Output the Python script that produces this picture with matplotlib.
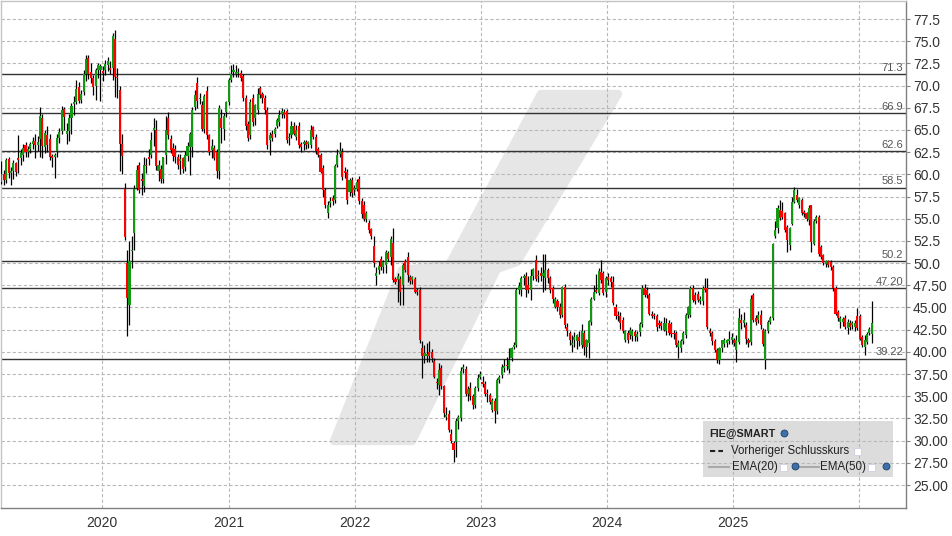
import datetime as dt
import numpy as np
import matplotlib
matplotlib.use("Agg")
import matplotlib.pyplot as plt
import matplotlib.dates as mdates
from matplotlib.patches import Polygon, Rectangle
from matplotlib.lines import Line2D
from matplotlib.transforms import blended_transform_factory

plt.rcParams['font.family'] = ['Liberation Sans', 'DejaVu Sans']

# weekly candles FIE@SMART, first week ending 2019-03-15
first_week = dt.date(2019, 3, 15)

opens = [
    # 2019-03 .. 2020-04
    59.1, 60.0, 59.4, 61.7, 60.1, 60.4, 61.3, 61.8, 61.8, 62.2, 63.3, 62.5, 62.9, 63.4, 63.8, 63.3,
    64.0, 66.4, 63.1, 64.4, 64.0, 62.1, 62.0, 62.6, 64.1, 64.9, 67.4, 64.6, 64.9, 66.3, 67.9, 68.1,
    69.8, 68.4, 69.3, 71.3, 73.1, 71.5, 70.9, 70.0, 71.8, 71.8, 71.6, 71.7, 72.3, 72.0, 72.0, 75.2,
    71.0, 69.5, 63.4, 58.3, 50.0, 45.3, 51.4, 53.4,
    # 2020-04 .. 2021-01
    58.5, 61.0, 59.5, 58.7, 61.1, 62.0, 62.2, 65.0, 65.0, 60.4, 60.6, 59.5, 62.2, 66.4, 64.0, 63.0,
    62.9, 62.0, 61.5, 61.8, 60.8, 62.1, 63.1, 63.1, 67.6, 70.3, 68.5, 67.8, 65.1, 69.4, 64.4, 62.7,
    63.0, 62.5, 60.4, 66.4, 65.1, 67.0, 68.1, 70.6, 71.5,
    # 2021-01 .. 2022-01
    71.3, 71.4, 71.4, 71.1, 68.6, 65.7, 64.4, 68.6, 66.3, 67.2, 69.7, 69.0, 68.6, 67.2, 63.9, 64.5,
    64.5, 65.5, 65.9, 66.8, 67.0, 67.1, 64.1, 64.4, 65.5, 64.2, 65.5, 63.4, 63.4, 63.6, 63.4, 63.3,
    65.3, 64.2, 62.8, 62.2, 60.7, 58.2, 55.6, 56.8, 57.3, 57.1, 61.1, 62.3, 62.5, 60.4, 60.3, 58.0,
    59.4, 58.2, 58.4, 59.5, 57.0,
    # 2022-01 .. 2023-06
    56.5, 55.0, 54.5, 53.8, 51.9, 48.6, 49.2, 50.5, 49.6, 49.8, 51.1, 50.7, 52.3, 48.2, 48.1, 48.2,
    47.5, 50.2, 50.7, 48.4, 48.1, 48.2, 46.9, 47.0, 40.4, 39.5, 39.5, 40.0, 40.0, 39.0, 36.6, 36.3,
    38.2, 36.1, 32.7, 33.0, 30.8, 29.7, 29.9, 32.2, 32.5, 38.1, 38.1, 35.3, 35.9, 35.0, 34.0, 35.9,
    37.2, 36.6, 36.4, 35.4, 35.1, 33.5, 34.5, 33.3, 36.8, 37.4, 38.2, 38.5, 38.1, 39.3, 40.6, 40.8,
    47.0, 47.0, 48.3, 48.5, 47.5, 47.0, 48.5, 50.3, 48.5,
    # 2023-06 .. 2024-11
    48.9, 48.5, 48.3, 49.2, 48.3, 47.2, 45.1, 45.7, 45.1, 44.2, 47.3, 42.8, 42.1, 40.8, 41.3, 41.2,
    41.7, 40.8, 42.1, 40.6, 41.0, 43.4, 46.0, 46.9, 46.6, 49.0, 48.9, 46.8, 48.4, 48.3, 47.9, 45.1,
    44.2, 44.0, 43.6, 41.3, 42.1, 41.9, 41.8, 42.2, 41.7, 42.2, 43.1, 47.2, 47.0, 46.4, 44.3, 44.1,
    44.0, 43.3, 43.2, 42.5, 42.3, 43.2, 43.1, 42.1, 42.1, 40.6, 40.4, 41.2, 41.9, 44.2, 44.2, 47.2,
    46.4, 46.5, 45.7, 45.7, 47.2, 47.2, 42.4, 42.1, 41.2, 40.2, 39.1,
    # 2024-11 .. 2026-02
    40.4, 40.9, 41.0, 41.2, 41.3, 41.3, 40.2, 41.1, 43.6, 43.2, 43.0, 41.3, 41.1, 46.4, 43.8, 43.6,
    44.1, 42.5, 39.1, 42.3, 43.4, 43.8, 53.0, 53.9, 56.0, 55.9, 55.6, 54.1, 52.0, 54.4, 56.9, 57.7,
    56.5, 57.1, 55.8, 55.6, 54.9, 56.5, 52.2, 54.7, 55.2, 51.8, 50.9, 49.9, 50.2, 50.1, 49.6, 47.2,
    44.5, 43.4, 43.4, 43.8, 42.7, 43.3, 43.0, 42.8, 44.0, 44.0, 41.7, 40.6, 41.1, 42.1, 42.0,
]

highs = [
    61.5, 60.5, 61.8, 61.9, 60.8, 61.6, 61.4, 64.4, 62.9, 63.4, 63.6, 63.2, 63.7, 64.2, 64.5, 64.3,
    67.6, 66.8, 65.0, 65.5, 64.5, 62.3, 62.4, 64.6, 65.2, 67.7, 67.6, 65.8, 66.8, 68.0, 68.8, 70.6,
    70.4, 69.5, 71.8, 73.5, 73.5, 72.6, 71.2, 72.0, 72.6, 72.4, 72.2, 72.9, 73.2, 72.8, 75.9, 76.3,
    72.0, 69.9, 64.5, 59.0, 51.5, 52.5, 53.0, 58.8,
    61.0, 61.4, 60.2, 62.0, 61.8, 62.8, 64.8, 66.3, 66.1, 61.6, 61.0, 62.0, 66.6, 67.0, 64.4, 63.5,
    63.3, 62.3, 62.3, 62.0, 62.6, 63.6, 64.8, 67.6, 69.5, 71.0, 69.2, 68.3, 69.0, 69.9, 64.6, 64.0,
    63.3, 62.9, 67.8, 67.4, 66.9, 68.3, 70.9, 72.3, 72.4,
    72.3, 72.0, 71.8, 71.3, 68.9, 66.0, 68.5, 69.0, 67.9, 69.7, 70.0, 69.3, 68.9, 67.6, 64.8, 65.0,
    65.3, 66.4, 67.3, 67.5, 67.4, 67.4, 64.7, 66.0, 65.9, 65.6, 65.9, 63.7, 63.9, 63.9, 63.8, 65.6,
    65.5, 64.5, 63.1, 62.4, 61.0, 58.5, 57.0, 57.5, 57.7, 61.2, 62.8, 63.6, 63.0, 60.8, 60.6, 59.6,
    59.7, 58.8, 59.5, 59.8, 57.3,
    57.0, 55.9, 54.9, 54.0, 53.0, 49.6, 50.2, 50.8, 50.4, 51.5, 51.4, 53.0, 54.0, 48.4, 48.9, 48.6,
    50.0, 50.5, 51.2, 48.7, 48.6, 48.4, 47.2, 47.3, 41.2, 40.8, 41.0, 41.2, 40.3, 39.3, 37.0, 38.7,
    38.5, 36.3, 33.8, 33.4, 31.3, 30.0, 32.5, 32.9, 38.3, 38.6, 38.4, 36.1, 36.6, 35.3, 36.2, 37.5,
    37.9, 37.3, 36.7, 35.8, 35.4, 34.8, 34.8, 37.0, 37.4, 38.6, 39.2, 39.4, 40.4, 40.6, 41.1, 47.2,
    47.9, 48.6, 48.8, 49.0, 48.5, 49.3, 49.5, 50.9, 49.2,
    49.6, 51.0, 51.0, 49.5, 48.5, 47.4, 46.2, 46.0, 45.5, 47.4, 47.6, 43.2, 42.4, 41.9, 42.2, 42.0,
    42.3, 43.1, 42.5, 41.5, 43.6, 46.2, 47.5, 48.8, 49.4, 50.3, 49.1, 48.5, 48.9, 48.6, 48.5, 45.4,
    44.6, 44.5, 43.9, 42.5, 42.5, 42.8, 42.6, 42.5, 42.3, 43.4, 47.5, 47.7, 47.3, 46.6, 44.6, 44.4,
    44.3, 43.6, 43.5, 43.9, 43.8, 43.6, 43.4, 42.5, 42.4, 41.3, 41.4, 42.3, 44.4, 45.2, 47.4, 47.5,
    46.7, 46.9, 46.3, 47.4, 48.3, 48.3, 42.7, 42.3, 41.5, 40.4, 40.6,
    41.3, 41.6, 41.5, 42.3, 42.1, 41.6, 41.9, 44.9, 44.3, 44.5, 43.4, 41.6, 46.4, 46.6, 44.2, 44.6,
    44.7, 42.7, 42.6, 43.6, 44.0, 52.3, 54.7, 56.5, 57.1, 56.9, 55.8, 54.3, 54.1, 57.5, 58.6, 58.4,
    57.5, 57.3, 56.0, 55.8, 56.5, 56.6, 55.0, 55.4, 55.4, 52.0, 51.0, 50.3, 50.4, 50.3, 49.8, 47.4,
    44.7, 44.0, 43.9, 44.1, 43.7, 43.6, 43.5, 43.6, 44.9, 44.3, 41.9, 41.9, 42.2, 42.8, 45.7,
]

lows = [
    58.9, 58.8, 59.0, 59.6, 58.8, 59.5, 59.8, 60.1, 61.0, 61.5, 61.9, 61.9, 62.4, 62.8, 61.8, 62.6,
    62.0, 61.8, 62.4, 62.5, 61.6, 60.8, 59.6, 61.9, 63.5, 64.5, 65.0, 63.4, 63.8, 64.5, 66.7, 67.9,
    68.0, 68.0, 68.9, 70.5, 70.7, 70.3, 68.9, 68.4, 70.8, 68.3, 70.5, 71.2, 71.6, 71.3, 70.6, 68.7,
    68.6, 60.4, 60.0, 52.6, 41.8, 43.0, 49.5, 51.5,
    58.2, 57.9, 57.7, 58.0, 60.2, 61.0, 61.8, 63.2, 60.5, 59.2, 59.0, 59.0, 61.2, 64.0, 62.4, 61.5,
    61.3, 60.6, 60.0, 60.2, 60.4, 61.5, 59.9, 62.0, 67.3, 67.5, 67.9, 64.9, 64.7, 64.0, 62.2, 61.8,
    61.6, 59.6, 59.5, 63.5, 63.9, 66.5, 67.8, 70.4, 71.0,
    71.0, 71.0, 70.5, 68.3, 65.0, 63.8, 64.0, 65.5, 65.6, 66.8, 68.6, 68.0, 66.8, 62.9, 62.2, 63.8,
    64.2, 65.2, 65.5, 66.4, 66.4, 63.5, 63.3, 64.1, 64.4, 63.9, 63.0, 62.5, 62.7, 62.9, 63.0, 63.0,
    64.0, 62.3, 61.9, 60.1, 57.5, 56.2, 55.1, 56.3, 56.6, 56.8, 60.8, 62.0, 59.4, 59.6, 56.7, 57.6,
    57.5, 57.7, 58.1, 56.7, 55.1,
    54.7, 54.6, 53.4, 52.7, 49.6, 47.5, 48.8, 49.2, 48.9, 48.9, 50.2, 49.8, 47.9, 47.6, 45.6, 45.3,
    45.3, 49.0, 47.9, 47.7, 47.6, 46.6, 46.4, 41.0, 37.0, 38.8, 38.9, 38.9, 38.9, 37.0, 35.8, 35.1,
    35.8, 32.7, 32.3, 31.0, 29.7, 27.6, 28.2, 31.3, 32.2, 37.6, 35.0, 34.5, 34.6, 33.6, 33.7, 35.6,
    36.9, 36.0, 35.0, 34.4, 34.1, 33.2, 32.0, 33.0, 36.5, 37.0, 37.7, 38.0, 37.6, 39.0, 40.3, 40.5,
    46.5, 46.3, 47.5, 46.2, 46.6, 45.8, 48.1, 48.0, 47.9,
    48.0, 46.8, 47.0, 47.8, 46.6, 45.5, 44.9, 44.6, 43.8, 43.9, 42.7, 41.8, 40.8, 40.0, 40.6, 40.3,
    40.7, 40.4, 39.6, 39.4, 39.3, 43.0, 45.8, 46.6, 46.4, 47.8, 46.4, 46.2, 47.5, 47.3, 45.3, 43.7,
    43.5, 42.6, 42.1, 41.1, 41.0, 41.5, 41.2, 41.2, 41.2, 41.8, 42.8, 46.2, 46.1, 44.1, 43.8, 43.7,
    42.3, 42.7, 42.5, 42.3, 41.9, 41.9, 41.7, 41.5, 40.5, 39.3, 40.0, 40.9, 41.6, 43.8, 43.9, 45.6,
    45.4, 45.6, 45.4, 45.3, 46.8, 42.6, 41.8, 40.8, 40.0, 38.7, 38.6,
    40.0, 40.5, 40.6, 40.9, 40.9, 40.7, 38.9, 40.9, 42.6, 42.8, 40.9, 40.6, 40.8, 43.4, 43.0, 43.2,
    42.6, 40.7, 38.1, 42.1, 43.1, 43.6, 52.8, 53.4, 54.9, 55.0, 53.5, 51.3, 51.5, 54.3, 56.8, 56.9,
    56.2, 55.4, 55.2, 54.8, 54.3, 51.3, 52.0, 54.5, 50.8, 50.5, 49.8, 49.6, 49.6, 49.2, 46.9, 44.2,
    43.5, 42.7, 42.9, 42.6, 42.0, 42.5, 42.6, 42.4, 42.5, 41.3, 40.5, 39.6, 40.9, 41.9, 41.0,
]

closes = [
    60.0, 59.4, 61.6, 60.1, 60.4, 61.3, 60.3, 61.6, 62.4, 63.0, 62.5, 62.9, 63.4, 63.8, 63.3, 63.6,
    66.6, 63.2, 64.7, 63.3, 62.0, 61.8, 62.2, 64.1, 64.8, 67.3, 66.5, 64.9, 66.4, 67.7, 68.1, 69.6,
    68.3, 69.1, 71.3, 73.0, 71.3, 70.9, 69.8, 71.7, 72.3, 72.2, 71.4, 72.4, 72.8, 71.8, 75.6, 71.0,
    70.9, 63.4, 62.1, 52.9, 46.1, 50.2, 51.5, 58.3,
    60.5, 58.2, 59.3, 61.1, 60.9, 61.7, 63.9, 65.2, 60.9, 61.0, 59.5, 61.9, 65.0, 64.4, 62.7, 62.1,
    61.9, 61.1, 61.7, 60.6, 62.2, 63.2, 64.6, 67.3, 68.9, 68.3, 68.6, 65.1, 68.8, 64.4, 62.5, 63.2,
    61.8, 60.4, 67.5, 65.2, 66.6, 68.1, 70.6, 71.3, 71.7,
    71.5, 71.5, 70.9, 68.6, 65.4, 64.1, 68.2, 65.9, 67.8, 69.0, 68.9, 68.6, 67.2, 63.3, 64.4, 64.1,
    65.1, 66.1, 66.7, 67.1, 66.7, 63.9, 64.2, 65.5, 64.6, 65.0, 63.3, 63.1, 63.6, 63.3, 63.6, 65.0,
    64.2, 62.6, 62.2, 60.3, 58.2, 56.5, 56.5, 57.0, 57.0, 60.9, 62.2, 62.6, 59.7, 60.1, 57.1, 59.4,
    57.9, 58.5, 59.1, 57.0, 55.5,
    55.0, 55.6, 53.7, 53.0, 50.0, 48.9, 49.7, 49.6, 50.1, 51.3, 50.5, 52.7, 48.1, 47.9, 48.6, 46.8,
    49.8, 49.2, 48.7, 48.0, 48.4, 46.8, 46.8, 41.3, 39.5, 39.9, 39.8, 39.5, 39.3, 37.2, 36.5, 38.0,
    36.1, 33.1, 32.9, 31.2, 30.0, 29.0, 32.2, 32.7, 37.9, 38.3, 35.3, 35.8, 35.0, 34.0, 35.9, 37.1,
    37.5, 36.4, 35.3, 35.2, 34.4, 34.6, 33.3, 36.8, 37.2, 38.3, 38.4, 38.4, 39.1, 40.4, 40.8, 47.0,
    47.4, 48.3, 48.5, 47.0, 47.0, 48.5, 49.3, 48.2, 48.7,
    48.5, 48.9, 49.2, 48.3, 47.0, 46.0, 46.0, 45.1, 44.2, 47.3, 43.0, 42.3, 41.3, 41.0, 41.7, 41.9,
    41.2, 42.3, 40.6, 41.3, 43.5, 46.0, 46.8, 46.8, 49.1, 48.1, 46.6, 48.3, 48.1, 47.9, 45.5, 44.0,
    44.0, 43.2, 42.3, 42.4, 41.3, 42.5, 42.4, 41.8, 42.0, 43.1, 47.2, 46.4, 46.4, 44.3, 44.0, 44.0,
    42.8, 43.0, 42.9, 43.2, 43.3, 42.1, 42.0, 42.0, 40.8, 41.0, 41.2, 42.1, 44.2, 45.1, 47.2, 45.8,
    45.7, 45.8, 46.0, 47.2, 47.0, 42.8, 42.1, 41.2, 40.2, 39.1, 40.4,
    41.3, 41.3, 41.3, 41.5, 41.7, 41.0, 41.3, 43.8, 43.2, 43.6, 41.5, 41.0, 46.0, 43.6, 43.4, 44.1,
    43.0, 40.9, 42.3, 43.4, 43.8, 52.2, 53.7, 56.2, 55.1, 55.2, 53.7, 52.6, 53.9, 56.9, 58.2, 57.1,
    57.3, 55.6, 55.5, 55.0, 56.2, 52.4, 54.7, 55.2, 51.0, 50.7, 50.0, 50.2, 49.8, 49.6, 47.2, 44.3,
    43.8, 43.8, 43.7, 42.8, 43.4, 42.8, 43.2, 43.3, 42.7, 41.5, 40.8, 41.3, 42.0, 42.6, 43.2,
]

levels = [71.3, 66.9, 62.6, 58.5, 50.2, 47.20, 39.22]
level_labels = ["71.3", "66.9", "62.6", "58.5", "50.2", "47.20", "39.22"]
y_ticks = np.arange(25.0, 77.51, 2.5)
year_ticks = [2020, 2021, 2022, 2023, 2024, 2025, 2026]
year_labels = ["2020", "2021", "2022", "2023", "2024", "2025", ""]

W, H = 953, 536


def fp(x, y):
    # figure pixel (from top-left) -> figure fraction
    return (x / W, 1 - y / H)


fig = plt.figure(figsize=(W / 100, H / 100), dpi=100)
fig.patch.set_facecolor("white")
ax = fig.add_axes([1 / W, 1 - 508 / H, 905 / W, 507 / H])
ax.set_facecolor("white")

dates = [first_week + dt.timedelta(weeks=i) for i in range(len(closes))]
x = mdates.date2num(dates)
o = np.array(opens)
h = np.array(highs)
l = np.array(lows)
c = np.array(closes)
up = c >= o
colors = np.where(up, "#119911", "#ff0000")
body_lo = np.minimum(o, c)
body_h = np.maximum(np.abs(c - o), 0.12)

# watermark logo (light grey, behind everything); thick round-joined edge rounds the corners
logo_col = "#e6e6e6"
logo = [fp(541, 94), fp(618, 94), fp(517, 262), fp(497, 269), fp(412, 441), fp(334, 441),
        fp(402, 270), fp(449, 265)]
ax.add_patch(Polygon(logo, closed=True, transform=fig.transFigure, facecolor=logo_col,
                     edgecolor=logo_col, linewidth=6, joinstyle="round", zorder=0.1))

# legend background
ax.add_patch(Rectangle(fp(703, 477), 190 / W, 56 / H, transform=fig.transFigure,
                       facecolor="#dcdcdc", edgecolor="none", zorder=0.2))

ax.set_axisbelow(True)
ax.grid(True, color="#b8b8b8", linestyle=(0, (3, 2)), linewidth=0.8)

for lev, lab in zip(levels, level_labels):
    ax.axhline(lev, color="#333333", linewidth=1.0, zorder=2)
    ax.text(0.997, lev + 0.15, lab, transform=blended_transform_factory(ax.transAxes, ax.transData),
            ha="right", va="bottom", fontsize=8, color="#555555", zorder=2)

ax.vlines(x, l, h, color="black", linewidth=0.9, zorder=3)
ax.bar(x, body_h, bottom=body_lo, width=6.0, color=colors, linewidth=0, zorder=4)

ax.set_xlim(mdates.date2num(dt.date(2019, 3, 14)), mdates.date2num(dt.date(2026, 5, 16)))
ax.set_ylim(22.41, 79.53)

ax.yaxis.tick_right()
ax.set_yticks(y_ticks)
ax.set_yticklabels([f"{v:.1f}" if v >= 50 else f"{v:.2f}" for v in y_ticks])
ax.set_xticks([mdates.date2num(dt.date(yr, 1, 1)) for yr in year_ticks])
ax.set_xticklabels(year_labels)
ax.tick_params(axis="y", length=3, width=0.8, color="#888888", labelsize=10,
               labelcolor="#333333", pad=2)
ax.tick_params(axis="x", length=0, labelsize=10, labelcolor="#333333", pad=6)

for side in ("left", "top"):
    ax.spines[side].set_color("#c4c4c4")
for side in ("right", "bottom"):
    ax.spines[side].set_color("#808080")
for sp in ax.spines.values():
    sp.set_linewidth(1.0)

# legend contents
txt = dict(transform=fig.transFigure, color="#222222", va="center")
fig.text(*fp(709, 434), "FIE@SMART", fontweight="bold", fontsize=7.8, **txt)
fig.text(*fp(731, 451), "Vorheriger Schlusskurs", fontsize=8.3, **txt)
fig.text(*fp(732, 467), "EMA(20)", fontsize=8.3, **txt)
fig.text(*fp(820, 467), "EMA(50)", fontsize=8.3, **txt)
fig.add_artist(Line2D([710 / W, 723 / W], [1 - 451 / H] * 2, transform=fig.transFigure,
                      color="#222222", linewidth=1.5, linestyle=(0, (2.5, 1.5))))
for x0, x1 in ((709, 729), (800, 819)):
    fig.add_artist(Line2D([x0 / W, x1 / W], [1 - 467 / H] * 2, transform=fig.transFigure,
                          color="#aaaaaa", linewidth=1.5))
for bx, by in ((854, 451), (780, 467), (868, 467)):
    fig.add_artist(Rectangle(fp(bx, by + 3.5), 7 / W, 7 / H, transform=fig.transFigure,
                             facecolor="white", edgecolor="#cfcfe0", linewidth=0.6))
for gx, gy in ((784, 433), (795, 466), (886, 466)):
    fig.add_artist(Line2D([gx / W], [1 - gy / H], transform=fig.transFigure, marker="o",
                          markersize=5, markerfacecolor="#3d6fa8", markeredgecolor="#1d3f6a",
                          markeredgewidth=0.6, linestyle="none"))

fig.savefig("out.png", dpi=100, facecolor="white")
